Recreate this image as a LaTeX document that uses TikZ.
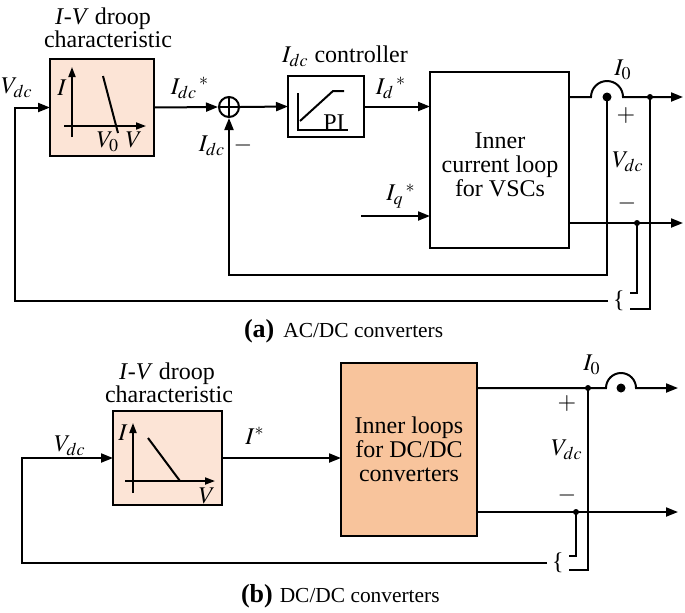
\documentclass[tikz,border=0pt]{standalone}
\usepackage{mathptmx}
\usepackage[no-math]{fontspec}
\setmainfont{Liberation Serif}
\usetikzlibrary{positioning, arrows.meta}
\definecolor{droopfill}{HTML}{FCE4D6}
\definecolor{loopfill}{HTML}{F8C49C}

\begin{document}
\begin{tikzpicture}[x=0.5pt, y=-0.5pt, line width=1pt,
    >={Triangle[length=6pt, width=4.5pt]},
    every node/.style={font=\fontsize{12}{12}\selectfont},
    block/.style={draw, line width=1pt, inner sep=0pt, outer sep=0pt},
    axis/.style={-{Triangle[length=5pt, width=3.5pt]}, line width=0.9pt},
    sum/.style={circle, draw, line width=1pt, inner sep=0pt, minimum size=10pt,
      path picture={\draw[line width=0.7pt] (path picture bounding box.north) -- (path picture bounding box.south)
        (path picture bounding box.west) -- (path picture bounding box.east);}},
    dot/.style={circle, fill, inner sep=0pt, minimum size=3pt},
    sensor/.style={circle, fill, inner sep=0pt, minimum size=4.5pt},
    bracket/.style={inner sep=2pt},
    caption/.style={anchor=base west, inner sep=0pt, font=\fontsize{10.7}{12}\selectfont}]
      \useasboundingbox (0,0) rectangle (685,612);
      % (a) AC/DC converters
      \node[block, fill=droopfill, minimum width=52pt, minimum height=48.5pt] (droopa) at (102,107.5) {};
      \node[anchor=base] (droopat1) at (103,24) {\textit{I}-\textit{V} droop};
      \node[anchor=base] (droopat2) at (108,47) {characteristic};
      \draw[axis] (72,137) -- (72,67);
      \draw[axis] (64,126) -- (146,126);
      \draw (103,76) -- (118,133);
      \node (droopai) at (62,88) {$I$};
      \node (droopav0) at (108,142) {$V_0$};
      \node (droopav) at (134,140) {$V$};
      \node[sum] (suma) at (229,107) {};
      \node[block, minimum width=38pt, minimum height=30.5pt] (pia) at (326,106.5) {};
      \node[anchor=base] (pialbl) at (345,62) {$I_{dc}$ controller};
      \draw (298,93) -- (298,130) -- (348,130);
      \draw (300,121) -- (333,91) -- (344,91);
      \node (pitxt) at (334,123) {PI};
      \node[block, minimum width=69.5pt, minimum height=88pt] (innera) at (499.5,160) {};
      \node[align=center] (inneratxt) at (500,165) {Inner\\current loop\\for VSCs};
      \coordinate (cornera) at (15,301);
      \coordinate (iqa) at (361,216);
      \coordinate (humpa) at (607,97);
      \coordinate (ja) at (650,97);
      \coordinate (outa) at (683,97);
      \coordinate (jba) at (637,223);
      \coordinate (outba) at (683,223);
      \coordinate (ifba) at (607,275);
      \node[bracket] (bracea) at (619,301) {\{};
      \draw[->] (bracea.west) -- (cornera) |- (droopa.west);
      \draw[->] (droopa.east) -- (suma.west);
      \draw[->] (suma.east) -- (pia.west);
      \draw[->] (pia.east) -- (pia.east -| innera.west);
      \draw[->] (iqa) -- (iqa -| innera.west);
      \draw[->] (innera.east |- humpa) -- ([xshift=-8pt]humpa) arc[start angle=180, end angle=0, radius=8pt] -- (outa);
      \draw[->] (innera.east |- jba) -- (outba);
      \node[sensor] (sensa) at (humpa) {};
      \node[dot] (dota1) at (ja) {};
      \node[dot] (dota2) at (jba) {};
      \draw[->] (sensa.center) -- (ifba) -| (suma.south);
      \draw (ja) |- ([yshift=-4pt]bracea.east);
      \draw (jba) |- ([yshift=4pt]bracea.east);
      \node (vdca) at (17,88) {$V_{dc}$};
      \node (idcsa) at (190,88) {${I_{dc}}^{\,*}$};
      \node (idsa) at (391,88) {${I_{d}}^{\,*}$};
      \node (iqsa) at (401,196) {${I_{q}}^{\,*}$};
      \node (idca) at (212,146) {$I_{dc}$};
      \node (minusa) at (243,145) {$-$};
      \node (i0a) at (623,70) {$I_0$};
      \node (plusa) at (626,115) {$+$};
      \node (vdcouta) at (628,162) {$V_{dc}$};
      \node (minusouta) at (627,203) {$-$};
      \node[caption] (capa) at (243,337) {{\fontsize{13}{13}\selectfont\bfseries (a)}\hspace{4.5pt}AC/DC converters};
      % (b) DC/DC converters
      \node[block, fill=droopfill, minimum width=54.5pt, minimum height=47pt] (droopb) at (167.5,458) {};
      \node[anchor=base] (droopbt1) at (167,379) {\textit{I}-\textit{V} droop};
      \node[anchor=base] (droopbt2) at (169,402) {characteristic};
      \draw[axis] (133,493) -- (133,423);
      \draw[axis] (125,481) -- (215,481);
      \draw (148,438) -- (180,481);
      \node (droopbi) at (123,433) {$I$};
      \node (droopbv) at (207,496) {$V$};
      \node[block, fill=loopfill, minimum width=68pt, minimum height=86.5pt, align=center] (innerb) at (409,449.5) {Inner loops\\for DC/DC\\converters};
      \coordinate (cornerb) at (22,563);
      \coordinate (humpb) at (621,388);
      \coordinate (jb) at (588,388);
      \coordinate (outb) at (678,388);
      \coordinate (jbb) at (576,512);
      \coordinate (outbb) at (678,512);
      \node[bracket] (braceb) at (558,563) {\{};
      \draw[->] (braceb.west) -- (cornerb) |- (droopb.west);
      \draw[->] (droopb.east) -- (droopb.east -| innerb.west);
      \draw[->] (innerb.east |- humpb) -- ([xshift=-7.5pt]humpb) arc[start angle=180, end angle=0, radius=7.5pt] -- (outb);
      \draw[->] (innerb.east |- jbb) -- (outbb);
      \node[sensor] (sensb) at (humpb) {};
      \node[dot] (dotb1) at (jb) {};
      \node[dot] (dotb2) at (jbb) {};
      \draw (jb) |- ([yshift=-3.5pt]braceb.east);
      \draw (jbb) |- ([yshift=3.5pt]braceb.east);
      \node (vdcb) at (70,446) {$V_{dc}$};
      \node (isb) at (255,436) {$I^{*}$};
      \node (i0b) at (592,365) {$I_0$};
      \node (plusb) at (567,403) {$+$};
      \node (vdcoutb) at (567,450) {$V_{dc}$};
      \node (minusoutb) at (567,495) {$-$};
      \node[caption] (capb) at (240,602) {{\fontsize{13}{13}\selectfont\bfseries (b)}\hspace{3.5pt}DC/DC converters};
    \end{tikzpicture}
\end{document}
